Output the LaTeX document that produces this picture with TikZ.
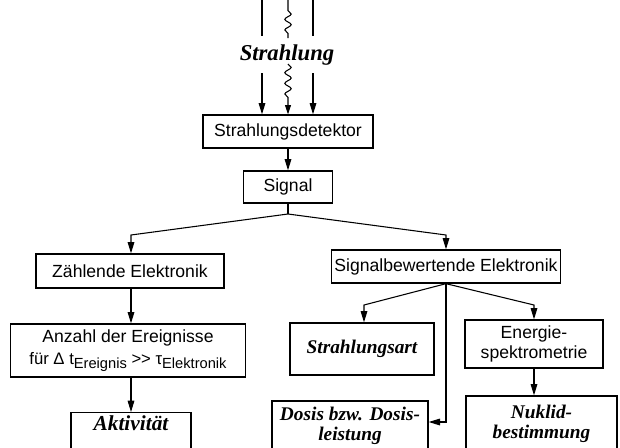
\documentclass[tikz,border=0pt]{standalone}
\usepackage{fontspec}
\setsansfont{Liberation Sans}
\newfontfamily\itfont{Liberation Serif}
\usetikzlibrary{arrows.meta,positioning,decorations.pathmorphing}
\newcommand{\lowidx}[1]{\raisebox{-0.45ex}{\fontsize{11}{12}\selectfont #1}}

\begin{document}
\begin{tikzpicture}[
    x=0.75pt, y=-0.75pt,
    font=\sffamily\fontsize{13.2}{15.5}\selectfont,
    box/.style={draw, line width=1pt, align=center, inner sep=2pt},
    result/.style={box, font=\itfont\bfseries\itshape\fontsize{14.5}{17}\selectfont},
    line/.style={line width=0.8pt},
    arrow/.style={-{Triangle[length=8.5pt,width=5pt]}, line width=0.8pt},
    wave/.style={line width=0.8pt, decorate, decoration={snake, amplitude=2.4pt, segment length=8pt}}
  ]
    \clip (0,0) rectangle (620,447);
    % radiation from above
    \node[font=\itfont\bfseries\itshape\fontsize{17}{20}\selectfont] (rad) at (287,55) {Strahlung};
    \node[box, minimum width=127.5pt, minimum height=24.75pt] (det) at (288,131.5) {Strahlungsdetektor};
    \node[box, minimum width=66.75pt, minimum height=24pt] (sig) at (288,187) {Signal};
    % left branch
    \node[box, minimum width=141pt, minimum height=25.5pt] (zaehl) at (130,271) {Zählende Elektronik};
    \node[box, minimum width=176.25pt, minimum height=39.75pt] (anz) at (128,350.5)
      {Anzahl der Ereignisse\\[1pt]{\fontsize{12.5}{14}\selectfont für Δ t\lowidx{Ereignis} >{}> τ\lowidx{Elektronik}}};
    \node[result, anchor=north, minimum width=90pt, text height=11pt, text depth=15pt,
      font=\itfont\bfseries\itshape\fontsize{16}{18}\selectfont] (akt) at (131,412) {Aktivität};
    % right branch
    \node[box, minimum width=170.25pt, minimum height=24.75pt] (bew) at (446,266.5) {Signalbewertende Elektronik};
    \node[result, minimum width=108pt, minimum height=39pt] (art) at (362,349) {Strahlungsart};
    \node[box, minimum width=103.5pt, minimum height=36pt] (ener) at (534,344) {Energie-\\[-1pt]spektrometrie};
    \node[result, minimum width=117pt, minimum height=37.5pt] (dosis) at (350,426) {Dosis bzw. Dosis-\\[-2pt]leistung};
    \node[result, minimum width=113.25pt, minimum height=41.25pt] (nuk) at (541.5,423.5) {Nuklid-\\[-2pt]bestimmung};

    \coordinate (t1) at (262,0);  \coordinate (u1) at (262,36);  \coordinate (v1) at (262,73);
    \coordinate (t2) at (288,0);  \coordinate (u2) at (288,38);  \coordinate (v2) at (288,64);
    \coordinate (t3) at (313,0);  \coordinate (u3) at (313,36);  \coordinate (v3) at (313,73);
    \foreach \i in {1,3} {
      \draw[line] (t\i) -- (u\i);
      \draw[arrow] (v\i) -- (v\i |- det.north);
    }
    \draw[wave, decoration={pre length=8pt}] (t2) -- (u2);
    \draw[wave, decoration={post length=11pt}, -{Triangle[length=7pt,width=4.5pt]}] (v2) -- (det.north);
    \draw[arrow] (det) -- (sig);

    % fork below the signal
    \coordinate (sf) at (288,214);
    \coordinate (fl) at (131,235);
    \coordinate (fr) at (446,235);
    \draw[line] (sig.south) -- (sf);
    \draw[arrow] (sf) -- (fl) -- (fl |- zaehl.north);
    \draw[arrow] (sf) -- (fr) -- (bew.north);

    % fork below the evaluating electronics
    \coordinate (bl) at (364,305);
    \coordinate (br) at (534,305);
    \coordinate (bd) at (446,422);
    \draw[arrow] (bew.south) -- (bl) -- (bl |- art.north);
    \draw[arrow] (bew.south) -- (br) -- (ener.north);
    \draw[arrow] (bew.south) -- (bd) -- (bd -| dosis.east);
    \foreach \a/\b in {zaehl/anz,anz/akt} \draw[arrow] (fl |- \a.south) -- (fl |- \b.north);
    \draw[arrow] (ener.south) -- (ener.south |- nuk.north);
  \end{tikzpicture}
\end{document}
